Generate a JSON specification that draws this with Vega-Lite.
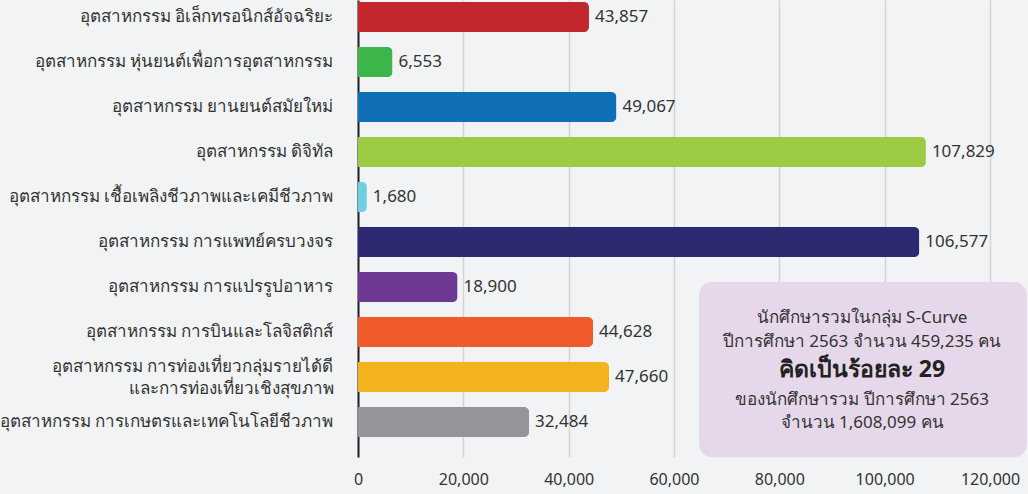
{
  "$schema": "https://vega.github.io/schema/vega-lite/v6.json",
  "autosize": "none",
  "width": 632,
  "height": 457,
  "padding": {"left": 358, "top": 0, "right": 38, "bottom": 37},
  "background": "#f2f3f5",
  "config": {
    "view": {"stroke": null},
    "font": "Noto Sans",
    "text": {"font": "Noto Sans"}
  },
  "datasets": {
    "industry": [
      {"industry": "อุตสาหกรรม อิเล็กทรอนิกส์อัจฉริยะ", "students": 43857, "color": "#c1272d"},
      {"industry": "อุตสาหกรรม หุ่นยนต์เพื่อการอุตสาหกรรม", "students": 6553, "color": "#3cb54a"},
      {"industry": "อุตสาหกรรม ยานยนต์สมัยใหม่", "students": 49067, "color": "#0f70b7"},
      {"industry": "อุตสาหกรรม ดิจิทัล", "students": 107829, "color": "#9ccb43"},
      {"industry": "อุตสาหกรรม เชื้อเพลิงชีวภาพและเคมีชีวภาพ", "students": 1680, "color": "#6dcfe0"},
      {"industry": "อุตสาหกรรม การแพทย์ครบวงจร", "students": 106577, "color": "#2e2a72"},
      {"industry": "อุตสาหกรรม การแปรรูปอาหาร", "students": 18900, "color": "#6f3893"},
      {"industry": "อุตสาหกรรม การบินและโลจิสติกส์", "students": 44628, "color": "#f15a2a"},
      {"industry": "อุตสาหกรรม การท่องเที่ยวกลุ่มรายได้ดี\nและการท่องเที่ยวเชิงสุขภาพ", "students": 47660, "color": "#f3b31e"},
      {"industry": "อุตสาหกรรม การเกษตรและเทคโนโลยีชีวภาพ", "students": 32484, "color": "#939598"}
    ]
  },
  "layer": [
    {
      "data": {"name": "industry"},
      "mark": {"type": "bar", "cornerRadiusEnd": 5},
      "encoding": {
        "y": {
          "field": "industry",
          "type": "nominal",
          "sort": null,
          "scale": {"paddingInner": 0.333, "paddingOuter": 0.244, "align": 0.09},
          "axis": {
            "title": null,
            "domain": true,
            "domainColor": "#222222",
            "domainWidth": 2,
            "ticks": false,
            "grid": false,
            "labelPadding": 25,
            "labelFontSize": 17,
            "labelColor": "#333333",
            "labelLimit": 400,
            "labelLineHeight": 22,
            "labelOffset": {"condition": {"test": "indexof(datum.value, '\\n') >= 0", "value": -10}, "value": 0},
            "labelExpr": "split(datum.label, '\\n')"
          }
        },
        "x": {
          "field": "students",
          "type": "quantitative",
          "scale": {"domain": [0, 120000], "nice": false},
          "axis": {
            "title": null,
            "domain": false,
            "ticks": false,
            "grid": true,
            "gridColor": "#d3d3d6",
            "gridWidth": 1.5,
            "values": [0, 20000, 40000, 60000, 80000, 100000, 120000],
            "format": ",.0f",
            "labelPadding": 14,
            "labelFontSize": 16,
            "labelColor": "#333333",
            "labelFlush": false
          }
        },
        "color": {"field": "color", "type": "nominal", "scale": null, "legend": null}
      }
    },
    {
      "data": {"name": "industry"},
      "mark": {"type": "text", "align": "left", "baseline": "middle", "dx": 6, "fontSize": 17, "color": "#333333"},
      "encoding": {
        "y": {"field": "industry", "type": "nominal", "sort": null},
        "x": {"field": "students", "type": "quantitative"},
        "text": {"field": "students", "type": "quantitative", "format": ",.0f"}
      }
    },
    {
      "data": {"values": [{}]},
      "mark": {"type": "rect", "color": "#e6d8ea", "cornerRadius": 13},
      "encoding": {
        "x": {"datum": 64750},
        "x2": {"datum": 127000},
        "y": {"datum": "อุตสาหกรรม การแปรรูปอาหาร", "bandPosition": 0.33},
        "y2": {"datum": "อุตสาหกรรม การเกษตรและเทคโนโลยีชีวภาพ", "bandPosition": 1.67}
      }
    },
    {
      "data": {"values": [{}]},
      "mark": {"type": "text", "align": "center", "baseline": "middle", "fontSize": 17, "color": "#333333", "lineHeight": 24, "text": ["นักศึกษารวมในกลุ่ม S-Curve", "ปีการศึกษา 2563 จำนวน 459,235 คน"]},
      "encoding": {
        "x": {"datum": 95700},
        "y": {"datum": "อุตสาหกรรม การบินและโลจิสติกส์", "bandPosition": 0.03}
      }
    },
    {
      "data": {"values": [{}]},
      "mark": {"type": "text", "align": "center", "baseline": "middle", "fontSize": 23, "fontWeight": "bold", "color": "#222222", "text": "คิดเป็นร้อยละ 29"},
      "encoding": {
        "x": {"datum": 95700},
        "y": {"datum": "อุตสาหกรรม การท่องเที่ยวกลุ่มรายได้ดี\nและการท่องเที่ยวเชิงสุขภาพ", "bandPosition": 0.27}
      }
    },
    {
      "data": {"values": [{}]},
      "mark": {"type": "text", "align": "center", "baseline": "middle", "fontSize": 17, "color": "#333333", "lineHeight": 23, "text": ["ของนักศึกษารวม ปีการศึกษา 2563", "จำนวน 1,608,099 คน"]},
      "encoding": {
        "x": {"datum": 95700},
        "y": {"datum": "อุตสาหกรรม การเกษตรและเทคโนโลยีชีวภาพ", "bandPosition": -0.23}
      }
    }
  ]
}
